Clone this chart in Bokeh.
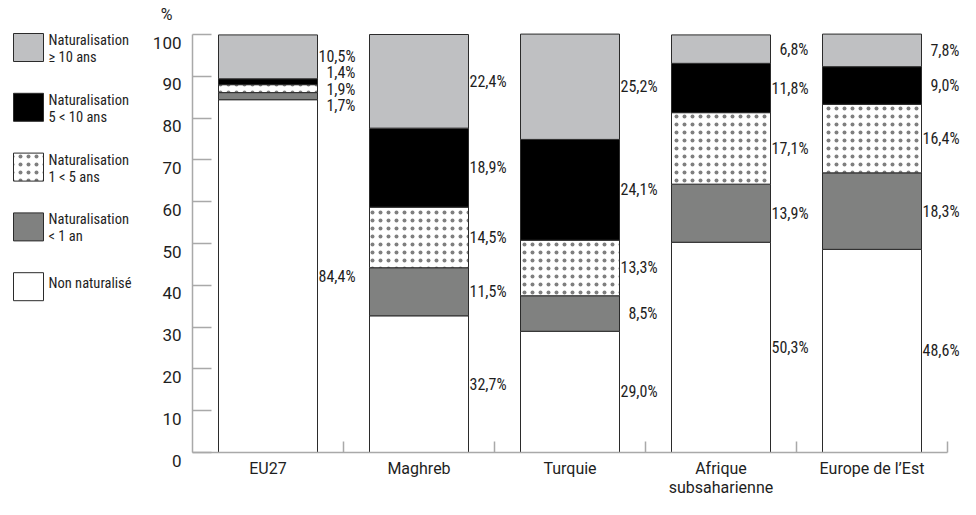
from bokeh.plotting import figure
from bokeh.models import ColumnDataSource, Range1d, LinearAxis, FixedTicker, LabelSet
from bokeh.embed import file_html
from bokeh.resources import INLINE
from bokeh.core.properties import value

# ---------------- data ----------------
categories = ["EU27", "Maghreb", "Turquie", "Afrique\nsubsaharienne", "Europe de l’Est"]
non_naturalise = [84.4, 32.7, 29.0, 50.3, 48.6]
nat_moins_1_an = [1.7, 11.5, 8.5, 13.9, 18.3]
nat_1_5_ans = [1.9, 14.5, 13.3, 17.1, 16.4]
nat_5_10_ans = [1.4, 18.9, 24.1, 11.8, 9.0]
nat_10_ans_plus = [10.5, 22.4, 25.2, 6.8, 7.8]
series = [non_naturalise, nat_moins_1_an, nat_1_5_ans, nat_5_10_ans, nat_10_ans_plus]
series_labels = ["Non naturalisé", "Naturalisation\n< 1 an", "Naturalisation\n1 < 5 ans",
                 "Naturalisation\n5 < 10 ans", "Naturalisation\n≥ 10 ans"]
y_ticks = [0, 10, 20, 30, 40, 50, 60, 70, 80, 90, 100]
boundary_ticks = [0.5, 1.5, 2.5, 3.5, 4.5]
unit_label = "%"

# ---------------- style / geometry ----------------
W, H = 960, 499
AXIS_X = 192          # canvas x of the y axis
PITCH = 151           # px per category
PX_100, PX_0 = 34, 452
S = (PX_0 - PX_100) / 100.0
BAR_W = 99 / PITCH
LAB_SHIFT = 8 / S     # tick labels sit ~8px below their ticks

fills = ["#ffffff", "#808180", "#ffffff", "#000000", "#bfc0c2"]
dotted = [False, False, True, False, False]
OUTLINE = "#2b2b2b"
GREY = "#a9a9a9"
TXT = "#1e1e1e"
COND = "Roboto Condensed, Roboto"
ROBOTO = "Roboto"
HATCH = dict(hatch_pattern="dot", hatch_color="#000000", hatch_scale=8, hatch_weight=0.1,
             hatch_alpha=0.5)

x0 = -0.5 - AXIS_X / PITCH
y0 = -(H - PX_0) / S
p = figure(width=W, height=H, x_range=Range1d(x0, x0 + W / PITCH),
           y_range=Range1d(y0, 100 + PX_100 / S),
           x_axis_location=None, y_axis_location=None, toolbar_location=None,
           output_backend="svg", min_border=0, min_border_left=0, min_border_right=0,
           min_border_top=0, min_border_bottom=0, outline_line_color=None)
p.grid.visible = False
p.extra_y_ranges = {"lab": Range1d(y0 + LAB_SHIFT, 100 + PX_100 / S + LAB_SHIFT),
                    "px": Range1d(H, 0)}
p.extra_x_ranges = {"px": Range1d(0, W)}

# ---------------- axes ----------------
yt = LinearAxis(ticker=FixedTicker(ticks=y_ticks), fixed_location=-0.5, bounds=(0, 100),
                axis_line_color=GREY, axis_line_width=1.5,
                major_tick_line_color=GREY, major_tick_line_width=1.5,
                major_tick_in=19, major_tick_out=0, minor_tick_line_color=None,
                major_label_text_color=None, major_label_text_font_size="0px")
p.add_layout(yt, "left")
yl = LinearAxis(y_range_name="lab", ticker=FixedTicker(ticks=y_ticks), fixed_location=-0.5,
                axis_line_color=None, major_tick_line_color=None, minor_tick_line_color=None,
                major_tick_in=0, major_tick_out=0, major_label_standoff=11,
                major_label_text_font=ROBOTO, major_label_text_font_size="17px",
                major_label_text_color=TXT)
p.add_layout(yl, "left")

xt = LinearAxis(ticker=FixedTicker(ticks=boundary_ticks), fixed_location=0, bounds=(-0.5, 4.5),
                axis_line_color=GREY, axis_line_width=1.5,
                major_tick_line_color=GREY, major_tick_line_width=1.5,
                major_tick_in=11, major_tick_out=0, minor_tick_line_color=None,
                major_label_text_color=None, major_label_text_font_size="0px")
p.add_layout(xt, "below")
xl = LinearAxis(ticker=FixedTicker(ticks=list(range(len(categories)))), fixed_location=0,
                major_label_overrides={i: c for i, c in enumerate(categories)},
                axis_line_color=None, major_tick_line_color=None, minor_tick_line_color=None,
                major_tick_in=0, major_tick_out=0, major_label_standoff=6,
                major_label_text_font=ROBOTO, major_label_text_font_size="16px",
                major_label_text_line_height=1.0, major_label_text_color=TXT)
p.add_layout(xl, "below")

# ---------------- stacked bars ----------------
xs = list(range(len(categories)))
bottom = [0.0] * len(categories)
mids = []
for k, vals in enumerate(series):
    top = [b + v for b, v in zip(bottom, vals)]
    src = ColumnDataSource(dict(x=xs, bottom=bottom, top=top))
    kw = HATCH if dotted[k] else {}
    p.vbar(x="x", bottom="bottom", top="top", width=BAR_W, source=src,
           fill_color=fills[k], line_color=OUTLINE, line_width=1, **kw)
    mids.append([(b + t) / 2 for b, t in zip(bottom, top)])
    bottom = top


def spread(centres, gap):
    groups = [[c] for c in centres]

    def pos(g):
        c = sum(g) / len(g)
        n = len(g)
        return [c + gap * ((n - 1) / 2 - j) for j in range(n)]

    changed = True
    while changed:
        changed = False
        for i in range(len(groups) - 1):
            if pos(groups[i])[-1] - pos(groups[i + 1])[0] < gap:
                groups[i] = groups[i] + groups[i + 1]
                del groups[i + 1]
                changed = True
                break
    out = []
    for g in groups:
        out += pos(g)
    return out


lx, ly, lt = [], [], []
for i in xs:
    order = list(range(len(series)))[::-1]          # top segment first
    centres = [mids[k][i] for k in order]
    ys = spread(centres, 16.5 / S)
    for k, yv in zip(order, ys):
        lx.append(i + BAR_W / 2)
        ly.append(yv)
        lt.append(f"{series[k][i]:.1f}".replace(".", ",") + "%")
p.add_layout(LabelSet(x="x", y="y", text="t", source=ColumnDataSource(dict(x=lx, y=ly, t=lt)),
                      x_offset=38, text_align="right", text_baseline="middle",
                      text_font=value(COND), text_font_size="16px", text_color=TXT))

# unit label above the axis
p.text(x=[166], y=[14], text=[unit_label], x_range_name="px", y_range_name="px",
       text_font=value(ROBOTO), text_font_size="16px", text_align="center",
       text_baseline="middle", text_color=TXT)

# ---------------- legend (pixel frame) ----------------
LEG_TOP, LEG_PITCH, BOX_H = 33, 59.8, 28
tx, ty, tt = [], [], []
for j, k in enumerate(range(len(series) - 1, -1, -1)):
    top = LEG_TOP + LEG_PITCH * j
    src = ColumnDataSource(dict(l=[13], r=[43], t=[top], b=[top + BOX_H]))
    kw = HATCH if dotted[k] else {}
    p.quad(left="l", right="r", top="t", bottom="b", source=src, fill_color=fills[k],
           line_color=OUTLINE, line_width=1, x_range_name="px", y_range_name="px", **kw)
    lines = series_labels[k].split("\n")
    offs = [11] if len(lines) == 1 else [7, 24]
    for line, o in zip(lines, offs):
        tx.append(48)
        ty.append(top + o)
        tt.append(line)
p.text(x="x", y="y", text="t", source=ColumnDataSource(dict(x=tx, y=ty, t=tt)),
       x_range_name="px", y_range_name="px",
       text_font=value(COND), text_font_size="14.5px", text_baseline="middle", text_color=TXT)

open("out.html", "w").write(file_html(p, INLINE))
